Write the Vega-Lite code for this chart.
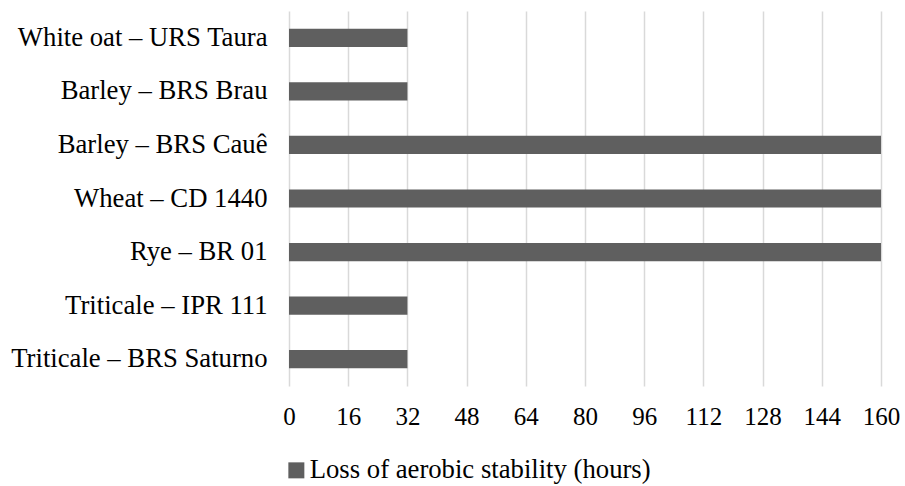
{
  "$schema": "https://vega.github.io/schema/vega-lite/v6.json",
  "width": 592,
  "height": 375,
  "autosize": {"type": "none"},
  "padding": {"left": 289, "top": 11, "right": 24, "bottom": 100},
  "background": "white",
  "data": {
    "values": [
      {"cultivar": "White oat – URS Taura", "hours": 32, "series": "Loss of aerobic stability (hours)"},
      {"cultivar": "Barley – BRS Brau", "hours": 32, "series": "Loss of aerobic stability (hours)"},
      {"cultivar": "Barley – BRS Cauê", "hours": 160, "series": "Loss of aerobic stability (hours)"},
      {"cultivar": "Wheat  – CD 1440", "hours": 160, "series": "Loss of aerobic stability (hours)"},
      {"cultivar": "Rye – BR 01", "hours": 160, "series": "Loss of aerobic stability (hours)"},
      {"cultivar": "Triticale – IPR 111", "hours": 32, "series": "Loss of aerobic stability (hours)"},
      {"cultivar": "Triticale – BRS Saturno", "hours": 32, "series": "Loss of aerobic stability (hours)"}
    ]
  },
  "config": {
    "view": {"stroke": null},
    "font": "Liberation Serif"
  },
  "mark": {"type": "bar", "color": "#5f5f5f"},
  "encoding": {
    "y": {
      "field": "cultivar",
      "type": "nominal",
      "sort": null,
      "title": null,
      "scale": {"paddingInner": 0.66, "paddingOuter": 0.33},
      "axis": {
        "domain": false,
        "ticks": false,
        "grid": false,
        "labelFont": "Liberation Serif",
        "labelFontSize": 26.7,
        "labelColor": "#000000",
        "labelPadding": 22,
        "labelLimit": 400
      }
    },
    "x": {
      "field": "hours",
      "type": "quantitative",
      "title": null,
      "scale": {"domain": [0, 160], "nice": false},
      "axis": {
        "values": [0, 16, 32, 48, 64, 80, 96, 112, 128, 144, 160],
        "domain": false,
        "ticks": false,
        "grid": true,
        "gridColor": "#d9d9d9",
        "gridWidth": 1.5,
        "labelFont": "Liberation Serif",
        "labelFontSize": 25,
        "labelColor": "#000000",
        "labelPadding": 18,
        "labelFlush": false
      }
    },
    "color": {
      "field": "series",
      "type": "nominal",
      "title": null,
      "scale": {"range": ["#5f5f5f"]},
      "legend": {
        "orient": "none",
        "legendX": -6,
        "legendY": 446,
        "padding": 0,
        "symbolType": "square",
        "symbolSize": 256,
        "symbolStrokeWidth": 0,
        "symbolOffset": 0,
        "labelFont": "Liberation Serif",
        "labelFontSize": 26.7,
        "labelColor": "#000000",
        "labelOffset": 0,
        "labelLimit": 500
      }
    }
  }
}
